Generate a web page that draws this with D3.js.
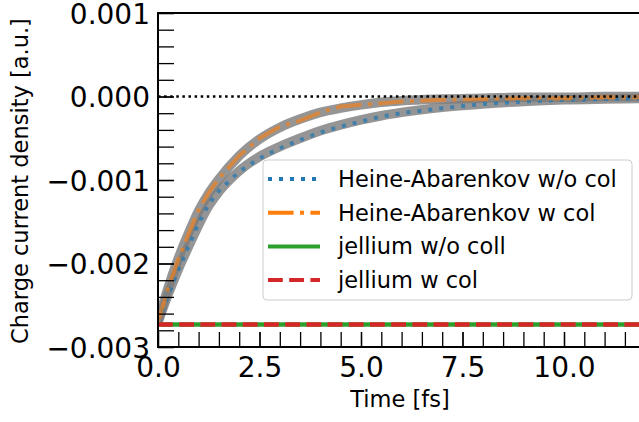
<!DOCTYPE html>
<html><head><meta charset="utf-8">
<script src="https://cdn.jsdelivr.net/npm/d3@7"></script>
<style>body{margin:0;background:#fff}svg{display:block}</style>
</head><body>
<script>
// ---- data ----
const time = [0, 0.25, 0.5, 0.75, 1, 1.25, 1.5, 2, 2.5, 3, 3.5, 4, 4.5, 5, 5.5, 6, 7, 8, 9, 10, 11, 12.5];
const haNoCol = [-0.00270, -0.00238, -0.00208, -0.00180, -0.00152, -0.00129, -0.00113, -0.00090, -0.00074, -0.00062, -0.00052, -0.00043, -0.00036, -0.00030, -0.00024, -0.00020, -0.00014, -0.00009, -0.00006, -0.00004, -0.00003, -0.00002];
const haCol   = [-0.00270, -0.00230, -0.00195, -0.00165, -0.00136, -0.00115, -0.00098, -0.00071, -0.00050, -0.00036, -0.00029, -0.00019, -0.00012, -0.00010, -0.00008, -0.00006, -0.00004, -0.00003, -0.00002, -0.00002, -0.00001, -0.00001];
const jelliumNoCol = time.map(() => -0.00273);
const jelliumCol   = time.map(() => -0.00273);
const fitSlow = [-0.00270, -0.00237, -0.00207, -0.00180, -0.00154, -0.00131, -0.00114, -0.00089, -0.00072, -0.00060, -0.00050, -0.00041, -0.00034, -0.00028, -0.00023, -0.00019, -0.00013, -0.00009, -0.00006, -0.00004, -0.00003, -0.00002];
const fitFast = [-0.00270, -0.00229, -0.00194, -0.00164, -0.00137, -0.00116, -0.00099, -0.00071, -0.00051, -0.00037, -0.00027, -0.00019, -0.00014, -0.00010, -0.00007, -0.00005, -0.00003, -0.00002, -0.00001, -0.00001, -0.00000, -0.00000];
const xTickValues = [0, 2.5, 5, 7.5, 10];
const yTickValues = [0.001, 0.000, -0.001, -0.002, -0.003];
const seriesNames = ["Heine-Abarenkov w/o col", "Heine-Abarenkov w col", "jellium w/o coll", "jellium w col"];
const seriesColors = ["#1f77b4", "#ff7f0e", "#2ca02c", "#d62728"];

// ---- layout ----
const W = 639, H = 422;
const L = 158, T = 13, B = 347;
const x = d3.scaleLinear().domain([0, 12]).range([L, L + 12 * 40.6]);
const y = d3.scaleLinear().domain([-0.003, 0.001]).range([B, T]);
const font = "DejaVu Sans, sans-serif";

const svg = d3.select("body").append("svg").attr("width", W).attr("height", H)
  .style("font-family", font);

svg.append("defs").append("clipPath").attr("id", "clip")
  .append("rect").attr("x", L).attr("y", T).attr("width", W - L + 10).attr("height", B - T);

const plot = svg.append("g").attr("clip-path", "url(#clip)");
const line = d3.line().x((d, i) => x(time[i])).y(d => y(d));

const dashes = [null, "25.6,6.4,4,6.4", null, "14.8,6.4"];
const dotted = "4,7";

// grey fits underneath
const fitLine = d3.line().x((d, i) => x(time[i])).y(d => y(d)).curve(d3.curveMonotoneX);
[fitSlow, fitFast].forEach(f => {
  plot.append("path").datum(f).attr("d", fitLine).attr("fill", "none")
    .attr("stroke", "#7a7a7a").attr("stroke-opacity", 0.8).attr("stroke-width", 9.5);
});

plot.append("path").datum(jelliumNoCol).attr("d", line).attr("fill", "none")
  .attr("stroke", seriesColors[2]).attr("stroke-width", 4.5);
plot.append("path").datum(jelliumCol).attr("d", line).attr("fill", "none")
  .attr("stroke", seriesColors[3]).attr("stroke-width", 4.5).attr("stroke-dasharray", dashes[3]);
plot.append("path").datum(haNoCol).attr("d", line).attr("fill", "none")
  .attr("stroke", seriesColors[0]).attr("stroke-opacity", 0.7).attr("stroke-width", 4).attr("stroke-dasharray", dotted);
plot.append("path").datum(haCol).attr("d", line).attr("fill", "none")
  .attr("stroke", seriesColors[1]).attr("stroke-opacity", 0.6).attr("stroke-width", 4).attr("stroke-dasharray", dashes[1]);

// zero dotted line
plot.append("line").attr("x1", L).attr("x2", W + 10).attr("y1", y(0)).attr("y2", y(0))
  .attr("stroke", "#000").attr("stroke-width", 2.5).attr("stroke-dasharray", "2.5,3.6");

// ---- axes ----
const yMinor = d3.range(-0.003, 0.00101, 0.0002);
const xMinor = d3.range(0, 12.01, 0.5);

const yAxisMinor = svg.append("g").attr("transform", `translate(${L},0)`)
  .call(d3.axisLeft(y).tickValues(yMinor).tickSize(-16).tickFormat(""));
const yAxis = svg.append("g").attr("transform", `translate(${L},0)`)
  .call(d3.axisLeft(y).tickValues(yTickValues).tickSize(-16).tickPadding(8).tickFormat(d3.format(".3f")));
const xAxisMinor = svg.append("g").attr("transform", `translate(0,${B})`)
  .call(d3.axisBottom(x).tickValues(xMinor).tickSize(-15).tickFormat(""));
const xAxis = svg.append("g").attr("transform", `translate(0,${B})`)
  .call(d3.axisBottom(x).tickValues(xTickValues).tickSize(-15).tickPadding(9).tickFormat(d3.format(".1f")));

[yAxisMinor, yAxis, xAxisMinor, xAxis].forEach(g => {
  g.select(".domain").remove();
  g.selectAll(".tick line").attr("stroke", "#000").attr("stroke-width", 1.3);
});
svg.selectAll(".tick text").attr("font-size", 28).attr("font-family", font).attr("fill", "#000");
yAxis.selectAll(".tick text").attr("dy", "0.36em");
xAxis.selectAll(".tick text").attr("dy", "0.76em");

// spines
svg.append("line").attr("x1", L).attr("x2", L).attr("y1", T).attr("y2", B).attr("stroke", "#000").attr("stroke-width", 2);
svg.append("line").attr("x1", L - 1).attr("x2", W).attr("y1", T).attr("y2", T).attr("stroke", "#000").attr("stroke-width", 2);
svg.append("line").attr("x1", L - 1).attr("x2", W).attr("y1", B).attr("y2", B).attr("stroke", "#000").attr("stroke-width", 2);

// axis labels
svg.append("text").attr("x", 400).attr("y", 407).attr("text-anchor", "middle")
  .attr("font-size", 22.5).text("Time [fs]");
svg.append("text").attr("transform", "translate(28,181) rotate(-90)").attr("text-anchor", "middle")
  .attr("font-size", 22.5).text("Charge current density [a.u.]");

// ---- legend ----
const lg = svg.append("g");
lg.append("rect").attr("x", 263).attr("y", 160).attr("width", 369).attr("height", 140).attr("rx", 4)
  .attr("fill", "#fff").attr("fill-opacity", 0.8).attr("stroke", "#cccccc").attr("stroke-width", 1);
const legDash = [dotted, dashes[1], null, dashes[3]];
seriesNames.forEach((name, i) => {
  const base = 187 + i * 33.7;
  const yy = base - 8;
  lg.append("line").attr("x1", 268).attr("x2", 320).attr("y1", yy).attr("y2", yy)
    .attr("stroke", seriesColors[i]).attr("stroke-width", 4).attr("stroke-dasharray", legDash[i]);
  lg.append("text").attr("x", 338).attr("y", base).attr("font-size", 22.5).text(name);
});
</script>
</body></html>
